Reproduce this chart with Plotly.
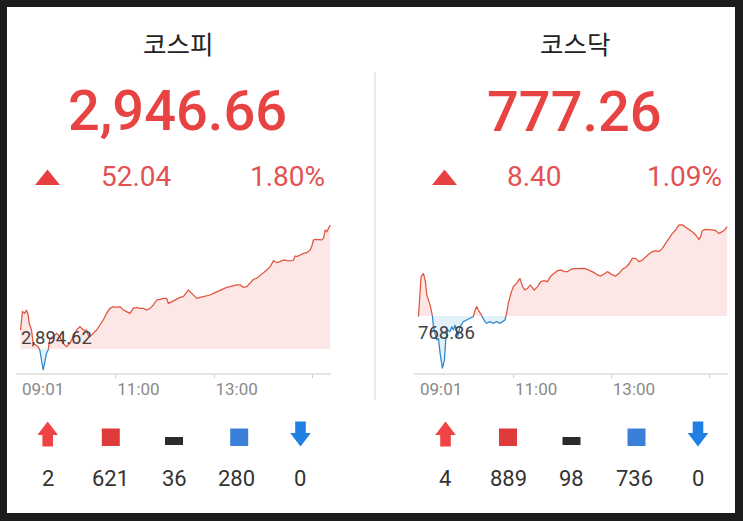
import plotly.graph_objects as go

W, H = 743, 521

# ---------------- data ----------------
index_names = ["코스피", "코스닥"]
index_closes = ["2,946.66", "777.26"]
index_changes = ["52.04", "8.40"]
index_pcts = ["1.80%", "1.09%"]
prev_closes = [2894.62, 768.86]
prev_close_labels = ["2,894.62", "768.86"]

first_tick_val = 1
first_tick_text = "09:01"
tick_vals = [120, 240, 360]
tick_text = ["11:00", "13:00", ""]

# counts: 상한, 상승, 보합, 하락, 하한
kospi_counts = [2, 621, 36, 280, 0]
kosdaq_counts = [4, 889, 98, 736, 0]

# minutes after 09:00
kospi_t = [3.3, 5.7, 8.6, 10.6, 12.7, 13.9, 16.7, 18.8, 22.0, 24.9, 26.9, 29.0, 31.0, 33.1, 35.1,
           37.1, 39.2, 43.3, 47.3, 51.4, 55.5, 59.6, 63.7, 67.8, 71.8, 75.9, 80.0, 84.1, 86.1,
           88.2, 92.2, 96.3, 100.4, 104.5, 108.6, 112.7, 116.7, 120.8, 124.9, 129.0, 133.1,
           137.1, 141.2, 145.3, 149.4, 153.5, 157.6, 161.6, 165.7, 169.8, 173.9, 178.0, 182.0,
           184.1, 186.1, 190.2, 194.3, 198.4, 202.4, 206.5, 208.6, 210.6, 214.7, 218.8, 222.9,
           226.9, 231.0, 235.1, 239.2, 243.3, 247.3, 251.4, 255.5, 259.6, 263.7, 267.8, 271.8,
           275.9, 280.0, 284.1, 288.2, 292.2, 296.3, 300.4, 304.5, 308.6, 312.7, 316.7, 320.8,
           324.9, 329.0, 333.1, 337.1, 339.2, 341.2, 345.3, 349.4, 353.5, 357.6, 359.6, 361.6,
           363.7, 367.8, 371.8, 373.9, 375.9, 378.0, 380.0, 382.0]
kospi_v = [2902.59, 2910.29, 2909.59, 2910.99, 2908.89, 2905.39, 2902.59, 2897.00, 2896.30,
           2895.60, 2894.20, 2890.00, 2885.81, 2889.30, 2892.80, 2894.20, 2899.10, 2899.80,
           2901.20, 2899.80, 2897.00, 2895.60, 2897.00, 2899.80, 2902.59, 2903.99, 2902.59,
           2902.59, 2900.50, 2899.80, 2901.20, 2902.59, 2904.69, 2906.79, 2909.59, 2911.69,
           2912.39, 2912.11, 2912.39, 2910.99, 2910.29, 2909.59, 2911.69, 2912.11, 2911.69,
           2911.69, 2910.99, 2911.69, 2913.09, 2915.19, 2915.47, 2915.88, 2915.88, 2913.79,
           2914.07, 2914.91, 2915.47, 2916.30, 2916.58, 2918.68, 2919.38, 2918.68, 2917.28,
           2915.88, 2916.30, 2916.58, 2916.86, 2917.28, 2917.98, 2918.68, 2919.38, 2920.08,
           2920.50, 2920.78, 2921.20, 2921.48, 2921.48, 2920.50, 2920.78, 2922.18, 2923.86,
           2924.28, 2925.68, 2926.66, 2927.78, 2929.18, 2931.69, 2930.85, 2931.27, 2931.97,
           2931.69, 2931.55, 2931.97, 2933.65, 2933.37, 2934.07, 2934.77, 2935.05, 2936.17,
           2937.85, 2940.37, 2940.65, 2940.37, 2940.37, 2941.07, 2944.56, 2943.86, 2945.26,
           2946.66]

kosdaq_t = [3.3, 6.5, 9.4, 11.8, 13.5, 15.5, 17.6, 20.4, 21.6, 25.7, 27.8, 29.8, 31.8, 32.7,
            35.1, 36.7, 39.2, 42.0, 44.1, 46.1, 48.2, 51.4, 54.3, 58.4, 62.4, 66.5, 70.6, 72.7,
            74.7, 76.7, 80.0, 82.9, 84.9, 86.9, 91.0, 95.1, 99.2, 103.3, 107.3, 109.4, 111.4,
            113.5, 116.7, 119.6, 123.7, 127.8, 131.0, 133.9, 137.1, 140.4, 145.3, 149.4, 153.5,
            157.6, 161.6, 165.7, 169.8, 173.9, 178.0, 182.0, 186.1, 190.2, 194.3, 198.4, 202.4,
            206.5, 210.6, 214.7, 218.8, 222.9, 226.9, 231.0, 235.1, 237.1, 241.2, 245.3, 249.4,
            253.5, 257.6, 261.6, 265.7, 269.8, 273.9, 278.0, 282.0, 286.1, 290.2, 294.3, 298.4,
            302.4, 306.5, 310.6, 314.7, 318.8, 322.9, 326.9, 331.0, 335.1, 339.2, 343.3, 347.3,
            349.4, 351.4, 355.5, 359.6, 363.7, 367.8, 371.8, 375.9, 378.8, 382.0]
kosdaq_v = [768.80, 772.56, 772.87, 772.09, 770.84, 770.36, 769.89, 768.86, 767.86, 766.60,
            766.76, 765.35, 764.09, 763.94, 764.72, 766.60, 767.54, 767.39, 767.86, 767.54,
            768.01, 766.92, 767.86, 768.33, 768.48, 768.64, 768.80, 769.42, 769.74, 769.42,
            768.95, 768.64, 768.33, 768.17, 768.33, 768.17, 768.33, 768.17, 768.33, 768.48,
            769.11, 770.05, 770.99, 771.62, 771.93, 772.40, 771.62, 771.31, 771.46, 771.78,
            771.31, 771.62, 772.09, 772.18, 772.09, 772.62, 772.87, 773.12, 773.19, 773.03,
            773.03, 773.25, 773.31, 773.34, 773.34, 773.34, 773.25, 773.12, 772.94, 772.72,
            772.62, 772.81, 773.03, 772.94, 772.72, 772.62, 772.87, 773.25, 773.44, 773.75,
            774.28, 774.28, 773.97, 774.13, 774.44, 774.69, 774.91, 775.00, 774.91, 775.22,
            775.69, 776.16, 776.63, 776.95, 777.42, 777.42, 777.20, 777.01, 776.79, 776.48,
            776.07, 776.32, 776.89, 777.01, 777.01, 776.95, 776.89, 776.63, 776.79, 776.95,
            777.26]

# ---------------- style ----------------
RED_LINE = "#e0553f"
BLUE_LINE = "#2f86c8"
RED_FILL = "#fde6e6"
BLUE_FILL = "#e3f1fa"
BIG_RED = "#e84343"
SUB_RED = "#e25252"
FONT = "Roboto, 'Noto Sans CJK KR', sans-serif"
KFONT = "'Noto Sans CJK KR', sans-serif"

def px(x):
    return x / W

def py(y):
    return 1 - y / H

fig = go.Figure()

panels = [
    dict(t=kospi_t, v=kospi_v, base=prev_closes[0], xa="x", ylo="y", yhi="y2"),
    dict(t=kosdaq_t, v=kosdaq_v, base=prev_closes[1], xa="x2", ylo="y3", yhi="y4"),
]

for p in panels:
    t, v, base = p["t"], p["v"], p["base"]
    poly_x = list(t) + list(t)[::-1]
    poly_y = list(v) + [base] * len(t)
    # upper (above previous close) part
    fig.add_trace(go.Scatter(x=poly_x, y=poly_y, fill="toself", fillcolor=RED_FILL,
                             line=dict(width=0), mode="lines", hoverinfo="skip",
                             xaxis=p["xa"], yaxis=p["yhi"]))
    fig.add_trace(go.Scatter(x=t, y=v, mode="lines", line=dict(color=RED_LINE, width=1.25),
                             xaxis=p["xa"], yaxis=p["yhi"]))
    # lower (below previous close) part
    fig.add_trace(go.Scatter(x=poly_x, y=poly_y, fill="toself", fillcolor=BLUE_FILL,
                             line=dict(width=0), mode="lines", hoverinfo="skip",
                             xaxis=p["xa"], yaxis=p["ylo"]))
    fig.add_trace(go.Scatter(x=t, y=v, mode="lines", line=dict(color=BLUE_LINE, width=1.25),
                             xaxis=p["xa"], yaxis=p["ylo"]))

plot_bottom, plot_top = 373, 222
d_lo, d_hi = py(plot_bottom), py(plot_top)
base_px = [349, 316]
ranges_lo = [[2884.55, prev_closes[0]], [763.50, prev_closes[1]]]
ranges_hi = [[prev_closes[0], 2947.91], [prev_closes[1], 777.70]]

TICKFONT = dict(family=FONT, size=17, color="#8a8a8a")
xaxis_common = dict(range=[-2.2, 383], showgrid=False, zeroline=False, showline=True,
                    linecolor="#e4e4e4", linewidth=1.5, ticks="outside", ticklen=3,
                    tickcolor="#c8c8c8", tickwidth=1.2, tickvals=tick_vals, ticktext=tick_text,
                    ticklabelposition="outside right",
                    tickfont=TICKFONT, fixedrange=True)
yaxis_common = dict(visible=False, fixedrange=True)

fig.update_layout(
    xaxis=dict(domain=[px(16), px(331)], anchor="y", **xaxis_common),
    xaxis2=dict(domain=[px(414), px(728)], anchor="y3", **xaxis_common),
    yaxis=dict(domain=[d_lo, py(base_px[0])], range=ranges_lo[0], anchor="x", **yaxis_common),
    yaxis2=dict(domain=[py(base_px[0]), d_hi], range=ranges_hi[0], anchor="x", **yaxis_common),
    yaxis3=dict(domain=[d_lo, py(base_px[1])], range=ranges_lo[1], anchor="x2", **yaxis_common),
    yaxis4=dict(domain=[py(base_px[1]), d_hi], range=ranges_hi[1], anchor="x2", **yaxis_common),
)

annotations = []
shapes = []

# white card + divider
shapes.append(dict(type="rect", xref="paper", yref="paper", x0=px(7), x1=px(735),
                   y0=py(513), y1=py(7), fillcolor="white", line=dict(width=0), layer="below"))
shapes.append(dict(type="line", xref="paper", yref="paper", x0=px(375), x1=px(375),
                   y0=py(72), y1=py(400), line=dict(color="#e8e8e8", width=2), layer="below"))

def text(x, y, s, size, color, family=FONT, weight=None, xanchor="center"):
    f = dict(family=family, size=size, color=color)
    if weight:
        f["weight"] = weight
    annotations.append(dict(x=px(x), y=py(y), xref="paper", yref="paper", text=s,
                            showarrow=False, xanchor=xanchor, yanchor="middle", font=f))

# first time label (no tick mark) on each axis
for xa in ["x", "x2"]:
    annotations.append(dict(x=first_tick_val, y=py(389), xref=xa, yref="paper",
                            text=first_tick_text, showarrow=False, xanchor="left",
                            yanchor="middle", xshift=1, font=TICKFONT))

centers = [177.5, 574.5]
tri_x = [47.5, 444.5]
chg_x = [136.7, 534.3]
pct_x = [287.2, 684.3]
big_y = [111, 112]
for i in range(2):
    text(centers[i], 42.5, index_names[i], 25.5, "#222222", family=KFONT)
    text(centers[i], big_y[i], index_closes[i], 56, BIG_RED, weight=500)
    text(chg_x[i], 176.5, index_changes[i], 28, SUB_RED)
    text(pct_x[i], 176.5, index_pcts[i], 28, SUB_RED)
    cx = tri_x[i]
    shapes.append(dict(type="path", xref="paper", yref="paper",
                       path=f"M {px(cx-12.5)} {py(185)} L {px(cx+12.5)} {py(185)} L {px(cx)} {py(169.5)} Z",
                       fillcolor="#e84040", line=dict(width=0)))

# previous-close labels on the charts
annotations.append(dict(x=kospi_t[0], y=prev_closes[0], xref="x", yref="y2",
                        text=prev_close_labels[0], showarrow=False, xanchor="left",
                        yanchor="middle", yshift=11, xshift=-2,
                        font=dict(family=FONT, size=18.5, color="#3f3f3f")))
annotations.append(dict(x=kosdaq_t[0], y=prev_closes[1], xref="x2", yref="y4",
                        text=prev_close_labels[1], showarrow=False, xanchor="left",
                        yanchor="middle", yshift=-17, xshift=-2,
                        font=dict(family=FONT, size=18.5, color="#3f3f3f")))

# bottom icons and counts
icon_x = [[47.7, 110.8, 174.0, 239.2, 300.5], [445.5, 508.0, 571.5, 636.5, 698.0]]
num_x = [[47.5, 110.0, 174.0, 236.7, 299.5], [444.5, 508.0, 571.0, 634.0, 697.5]]
counts = [kospi_counts, kosdaq_counts]
for i in range(2):
    ux, rx, dx, bx, ddx = icon_x[i]
    # up arrow (상한)
    shapes.append(dict(type="path", xref="paper", yref="paper",
                       path=(f"M {px(ux)} {py(421.5)} L {px(ux+10.3)} {py(435)} L {px(ux+5.3)} {py(435)} "
                             f"L {px(ux+5.3)} {py(446.5)} L {px(ux-5.3)} {py(446.5)} L {px(ux-5.3)} {py(435)} "
                             f"L {px(ux-10.3)} {py(435)} Z"),
                       fillcolor="#f04444", line=dict(width=0)))
    # red square (상승)
    shapes.append(dict(type="rect", xref="paper", yref="paper", x0=px(rx-9), x1=px(rx+9),
                       y0=py(446), y1=py(428.5), fillcolor="#e03b3b", line=dict(width=0)))
    # dash (보합)
    shapes.append(dict(type="rect", xref="paper", yref="paper", x0=px(dx-9), x1=px(dx+9),
                       y0=py(445), y1=py(437), fillcolor="#2b2b2b", line=dict(width=0)))
    # blue square (하락)
    shapes.append(dict(type="rect", xref="paper", yref="paper", x0=px(bx-9), x1=px(bx+9),
                       y0=py(446), y1=py(428.5), fillcolor="#3a80d8", line=dict(width=0)))
    # down arrow (하한)
    shapes.append(dict(type="path", xref="paper", yref="paper",
                       path=(f"M {px(ddx)} {py(446.5)} L {px(ddx+10.3)} {py(433)} L {px(ddx+5.3)} {py(433)} "
                             f"L {px(ddx+5.3)} {py(421.5)} L {px(ddx-5.3)} {py(421.5)} L {px(ddx-5.3)} {py(433)} "
                             f"L {px(ddx-10.3)} {py(433)} Z"),
                       fillcolor="#1f7fe3", line=dict(width=0)))
    for j in range(5):
        text(num_x[i][j], 478, str(counts[i][j]), 22, "#333333")

fig.update_layout(
    width=W, height=H, margin=dict(l=0, r=0, t=0, b=0),
    paper_bgcolor="#1c1c1c", plot_bgcolor="rgba(0,0,0,0)",
    showlegend=False, annotations=annotations, shapes=shapes,
    hovermode=False,
)

fig.write_html("out.html")
